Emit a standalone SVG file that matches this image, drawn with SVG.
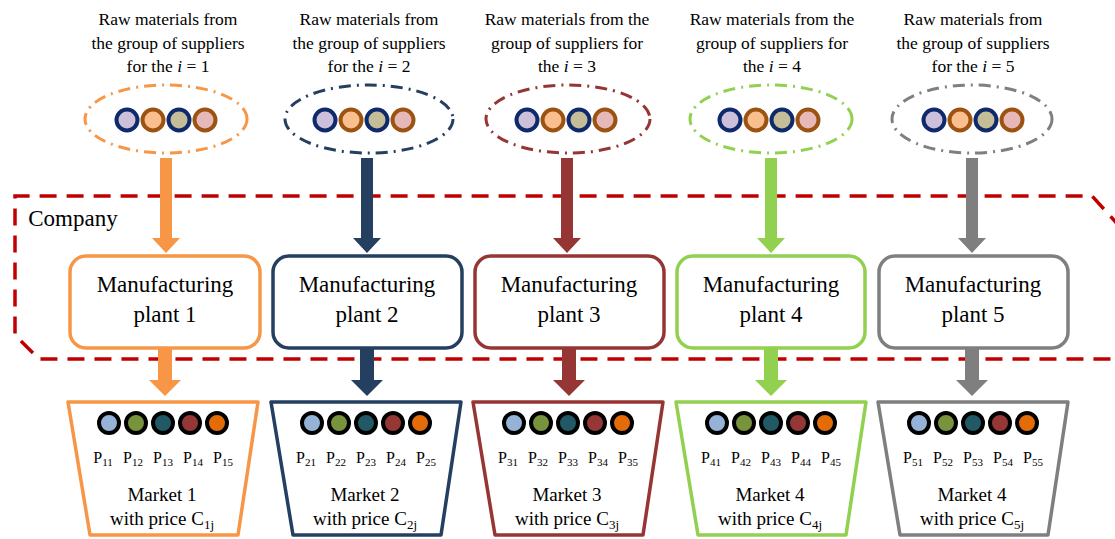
<svg xmlns="http://www.w3.org/2000/svg" width="1115" height="539" viewBox="0 0 1115 539" font-family="'Liberation Serif', 'DejaVu Serif', serif">
  <style>
    text { font-family: 'Liberation Serif', 'DejaVu Serif', serif; fill: #000; text-anchor: middle; }
    .cap { font-size: 17.5px; }
    .plant-label { font-size: 23px; }
    .mk { font-size: 19px; }
    .pl { font-size: 16px; }
    .sub { font-size: 11px; }
    .grp { fill: none; stroke-width: 3; stroke-dasharray: 12 6 2 6; }
    .raw { stroke-width: 4; }
    .plant { fill: #fff; stroke-width: 3.5; }
    .market { fill: #fff; stroke-width: 3.5; stroke-linejoin: round; }
    .prod { stroke: #000; stroke-width: 4; }
    .company { fill: none; stroke: #c00000; stroke-width: 3.5; stroke-dasharray: 17 10; }
  </style>
  <defs>
    <!-- raw material set (4 discs) centred on 0,0 -->
    <g id="raw">
      <circle class="raw" cx="-39" cy="0" r="10.5" fill="#ccc0da" stroke="#0f2a6b"/>
      <circle class="raw" cx="-13" cy="0" r="10.5" fill="#fabf8f" stroke="#9c5311"/>
      <circle class="raw" cx="13" cy="0" r="10.5" fill="#c4bd97" stroke="#0f2a6b"/>
      <circle class="raw" cx="39" cy="0" r="10.5" fill="#e6b9b8" stroke="#9c5311"/>
    </g>
    <!-- product set (5 discs) centred on 0,0 -->
    <g id="prods">
      <circle class="prod" cx="-54" cy="0" r="10" fill="#95b3d7"/>
      <circle class="prod" cx="-27" cy="0" r="10" fill="#77933c"/>
      <circle class="prod" cx="0" cy="0" r="10" fill="#215967"/>
      <circle class="prod" cx="27" cy="0" r="10" fill="#953735"/>
      <circle class="prod" cx="54" cy="0" r="10" fill="#e36c09"/>
    </g>
    <path id="arrowIn" d="M -6 158 H 6 V 238 H 14 L 0 253 L -14 238 H -6 Z"/>
    <path id="arrowOut" d="M -7 348 H 7 V 380 H 16 L 0 396 L -16 380 H -7 Z"/>
  </defs>

  <!-- company boundary -->
  <g id="company">
    <path class="company" d="M 1122 229 L 1092 196 H 15 V 335 L 39 359 H 1120"/>
    <text x="73" y="226" style="font-size:23px">Company</text>
  </g>

  <!-- supplier groups -->
  <g id="supplier1">
    <text class="cap" x="168" y="25">Raw materials from</text>
    <text class="cap" x="168" y="49">the group of suppliers</text>
    <text class="cap" x="168" y="72">for the <tspan font-style="italic">i</tspan> = 1</text>
    <ellipse class="grp" cx="166" cy="119" rx="81" ry="34" stroke="#f79646"/>
    <use href="#raw" x="166" y="120"/>
  </g>
  <g id="supplier2">
    <text class="cap" x="369" y="25">Raw materials from</text>
    <text class="cap" x="369" y="49">the group of suppliers</text>
    <text class="cap" x="369" y="72">for the <tspan font-style="italic">i</tspan> = 2</text>
    <ellipse class="grp" cx="369" cy="119" rx="84" ry="34" stroke="#243f60"/>
    <use href="#raw" x="364" y="120"/>
  </g>
  <g id="supplier3">
    <text class="cap" x="567" y="25">Raw materials from the</text>
    <text class="cap" x="567" y="49">group of suppliers for</text>
    <text class="cap" x="567" y="72">the <tspan font-style="italic">i</tspan> = 3</text>
    <ellipse class="grp" cx="568" cy="119" rx="82" ry="34" stroke="#963634"/>
    <use href="#raw" x="566" y="120"/>
  </g>
  <g id="supplier4">
    <text class="cap" x="772" y="25">Raw materials from the</text>
    <text class="cap" x="772" y="49">group of suppliers for</text>
    <text class="cap" x="772" y="72">the <tspan font-style="italic">i</tspan> = 4</text>
    <ellipse class="grp" cx="771" cy="119" rx="81" ry="34" stroke="#92d050"/>
    <use href="#raw" x="769" y="120"/>
  </g>
  <g id="supplier5">
    <text class="cap" x="973" y="25">Raw materials from</text>
    <text class="cap" x="973" y="49">the group of suppliers</text>
    <text class="cap" x="973" y="72">for the <tspan font-style="italic">i</tspan> = 5</text>
    <ellipse class="grp" cx="972" cy="119" rx="80" ry="34" stroke="#7f7f7f"/>
    <use href="#raw" x="973" y="120"/>
  </g>

  <!-- connectors -->
  <g id="connectors">
    <use href="#arrowIn" x="166" fill="#f79646"/>
    <use href="#arrowIn" x="367" fill="#243f60"/>
    <use href="#arrowIn" x="567" fill="#963634"/>
    <use href="#arrowIn" x="771" fill="#92d050"/>
    <use href="#arrowIn" x="972" fill="#7f7f7f"/>
    <use href="#arrowOut" x="165" fill="#f79646"/>
    <use href="#arrowOut" x="367" fill="#243f60"/>
    <use href="#arrowOut" x="569" fill="#963634"/>
    <use href="#arrowOut" x="771" fill="#92d050"/>
    <use href="#arrowOut" x="972" fill="#7f7f7f"/>
  </g>

  <!-- manufacturing plants -->
  <g id="plant1">
    <rect class="plant" x="70" y="256" width="190" height="92" rx="16" stroke="#f79646"/>
    <text class="plant-label" x="165" y="292">Manufacturing</text>
    <text class="plant-label" x="165" y="322">plant 1</text>
  </g>
  <g id="plant2">
    <rect class="plant" x="273" y="256" width="189" height="92" rx="16" stroke="#243f60"/>
    <text class="plant-label" x="367" y="292">Manufacturing</text>
    <text class="plant-label" x="367" y="322">plant 2</text>
  </g>
  <g id="plant3">
    <rect class="plant" x="475" y="256" width="189" height="92" rx="16" stroke="#963634"/>
    <text class="plant-label" x="569" y="292">Manufacturing</text>
    <text class="plant-label" x="569" y="322">plant 3</text>
  </g>
  <g id="plant4">
    <rect class="plant" x="677" y="256" width="188" height="92" rx="16" stroke="#92d050"/>
    <text class="plant-label" x="771" y="292">Manufacturing</text>
    <text class="plant-label" x="771" y="322">plant 4</text>
  </g>
  <g id="plant5">
    <rect class="plant" x="879" y="256" width="189" height="92" rx="16" stroke="#7f7f7f"/>
    <text class="plant-label" x="973" y="292">Manufacturing</text>
    <text class="plant-label" x="973" y="322">plant 5</text>
  </g>

  <!-- markets -->
  <g id="market1">
    <path class="market" d="M 68 402 H 258 L 238 535 H 90 Z" stroke="#f79646"/>
    <use href="#prods" x="163" y="423"/>
    <g class="pl">
      <text x="103" y="463">P<tspan class="sub" dy="3">11</tspan></text>
      <text x="133" y="463">P<tspan class="sub" dy="3">12</tspan></text>
      <text x="163" y="463">P<tspan class="sub" dy="3">13</tspan></text>
      <text x="193" y="463">P<tspan class="sub" dy="3">14</tspan></text>
      <text x="223" y="463">P<tspan class="sub" dy="3">15</tspan></text>
    </g>
    <text class="mk" x="162" y="501">Market 1</text>
    <text class="mk" x="162" y="525">with price C<tspan class="sub" dy="4" style="font-size:13px">1j</tspan></text>
  </g>
  <g id="market2">
    <path class="market" d="M 271 402 H 461 L 441 535 H 293 Z" stroke="#243f60"/>
    <use href="#prods" x="366" y="423"/>
    <g class="pl">
      <text x="306" y="463">P<tspan class="sub" dy="3">21</tspan></text>
      <text x="336" y="463">P<tspan class="sub" dy="3">22</tspan></text>
      <text x="366" y="463">P<tspan class="sub" dy="3">23</tspan></text>
      <text x="396" y="463">P<tspan class="sub" dy="3">24</tspan></text>
      <text x="426" y="463">P<tspan class="sub" dy="3">25</tspan></text>
    </g>
    <text class="mk" x="365" y="501">Market 2</text>
    <text class="mk" x="365" y="525">with price C<tspan class="sub" dy="4" style="font-size:13px">2j</tspan></text>
  </g>
  <g id="market3">
    <path class="market" d="M 473 402 H 663 L 643 535 H 495 Z" stroke="#963634"/>
    <use href="#prods" x="568" y="423"/>
    <g class="pl">
      <text x="508" y="463">P<tspan class="sub" dy="3">31</tspan></text>
      <text x="538" y="463">P<tspan class="sub" dy="3">32</tspan></text>
      <text x="568" y="463">P<tspan class="sub" dy="3">33</tspan></text>
      <text x="598" y="463">P<tspan class="sub" dy="3">34</tspan></text>
      <text x="628" y="463">P<tspan class="sub" dy="3">35</tspan></text>
    </g>
    <text class="mk" x="567" y="501">Market 3</text>
    <text class="mk" x="567" y="525">with price C<tspan class="sub" dy="4" style="font-size:13px">3j</tspan></text>
  </g>
  <g id="market4">
    <path class="market" d="M 676 402 H 866 L 846 535 H 698 Z" stroke="#92d050"/>
    <use href="#prods" x="771" y="423"/>
    <g class="pl">
      <text x="711" y="463">P<tspan class="sub" dy="3">41</tspan></text>
      <text x="741" y="463">P<tspan class="sub" dy="3">42</tspan></text>
      <text x="771" y="463">P<tspan class="sub" dy="3">43</tspan></text>
      <text x="801" y="463">P<tspan class="sub" dy="3">44</tspan></text>
      <text x="831" y="463">P<tspan class="sub" dy="3">45</tspan></text>
    </g>
    <text class="mk" x="770" y="501">Market 4</text>
    <text class="mk" x="770" y="525">with price C<tspan class="sub" dy="4" style="font-size:13px">4j</tspan></text>
  </g>
  <g id="market5">
    <path class="market" d="M 878 402 H 1068 L 1048 535 H 900 Z" stroke="#7f7f7f"/>
    <use href="#prods" x="973" y="423"/>
    <g class="pl">
      <text x="913" y="463">P<tspan class="sub" dy="3">51</tspan></text>
      <text x="943" y="463">P<tspan class="sub" dy="3">52</tspan></text>
      <text x="973" y="463">P<tspan class="sub" dy="3">53</tspan></text>
      <text x="1003" y="463">P<tspan class="sub" dy="3">54</tspan></text>
      <text x="1033" y="463">P<tspan class="sub" dy="3">55</tspan></text>
    </g>
    <text class="mk" x="972" y="501">Market 4</text>
    <text class="mk" x="972" y="525">with price C<tspan class="sub" dy="4" style="font-size:13px">5j</tspan></text>
  </g>
</svg>
